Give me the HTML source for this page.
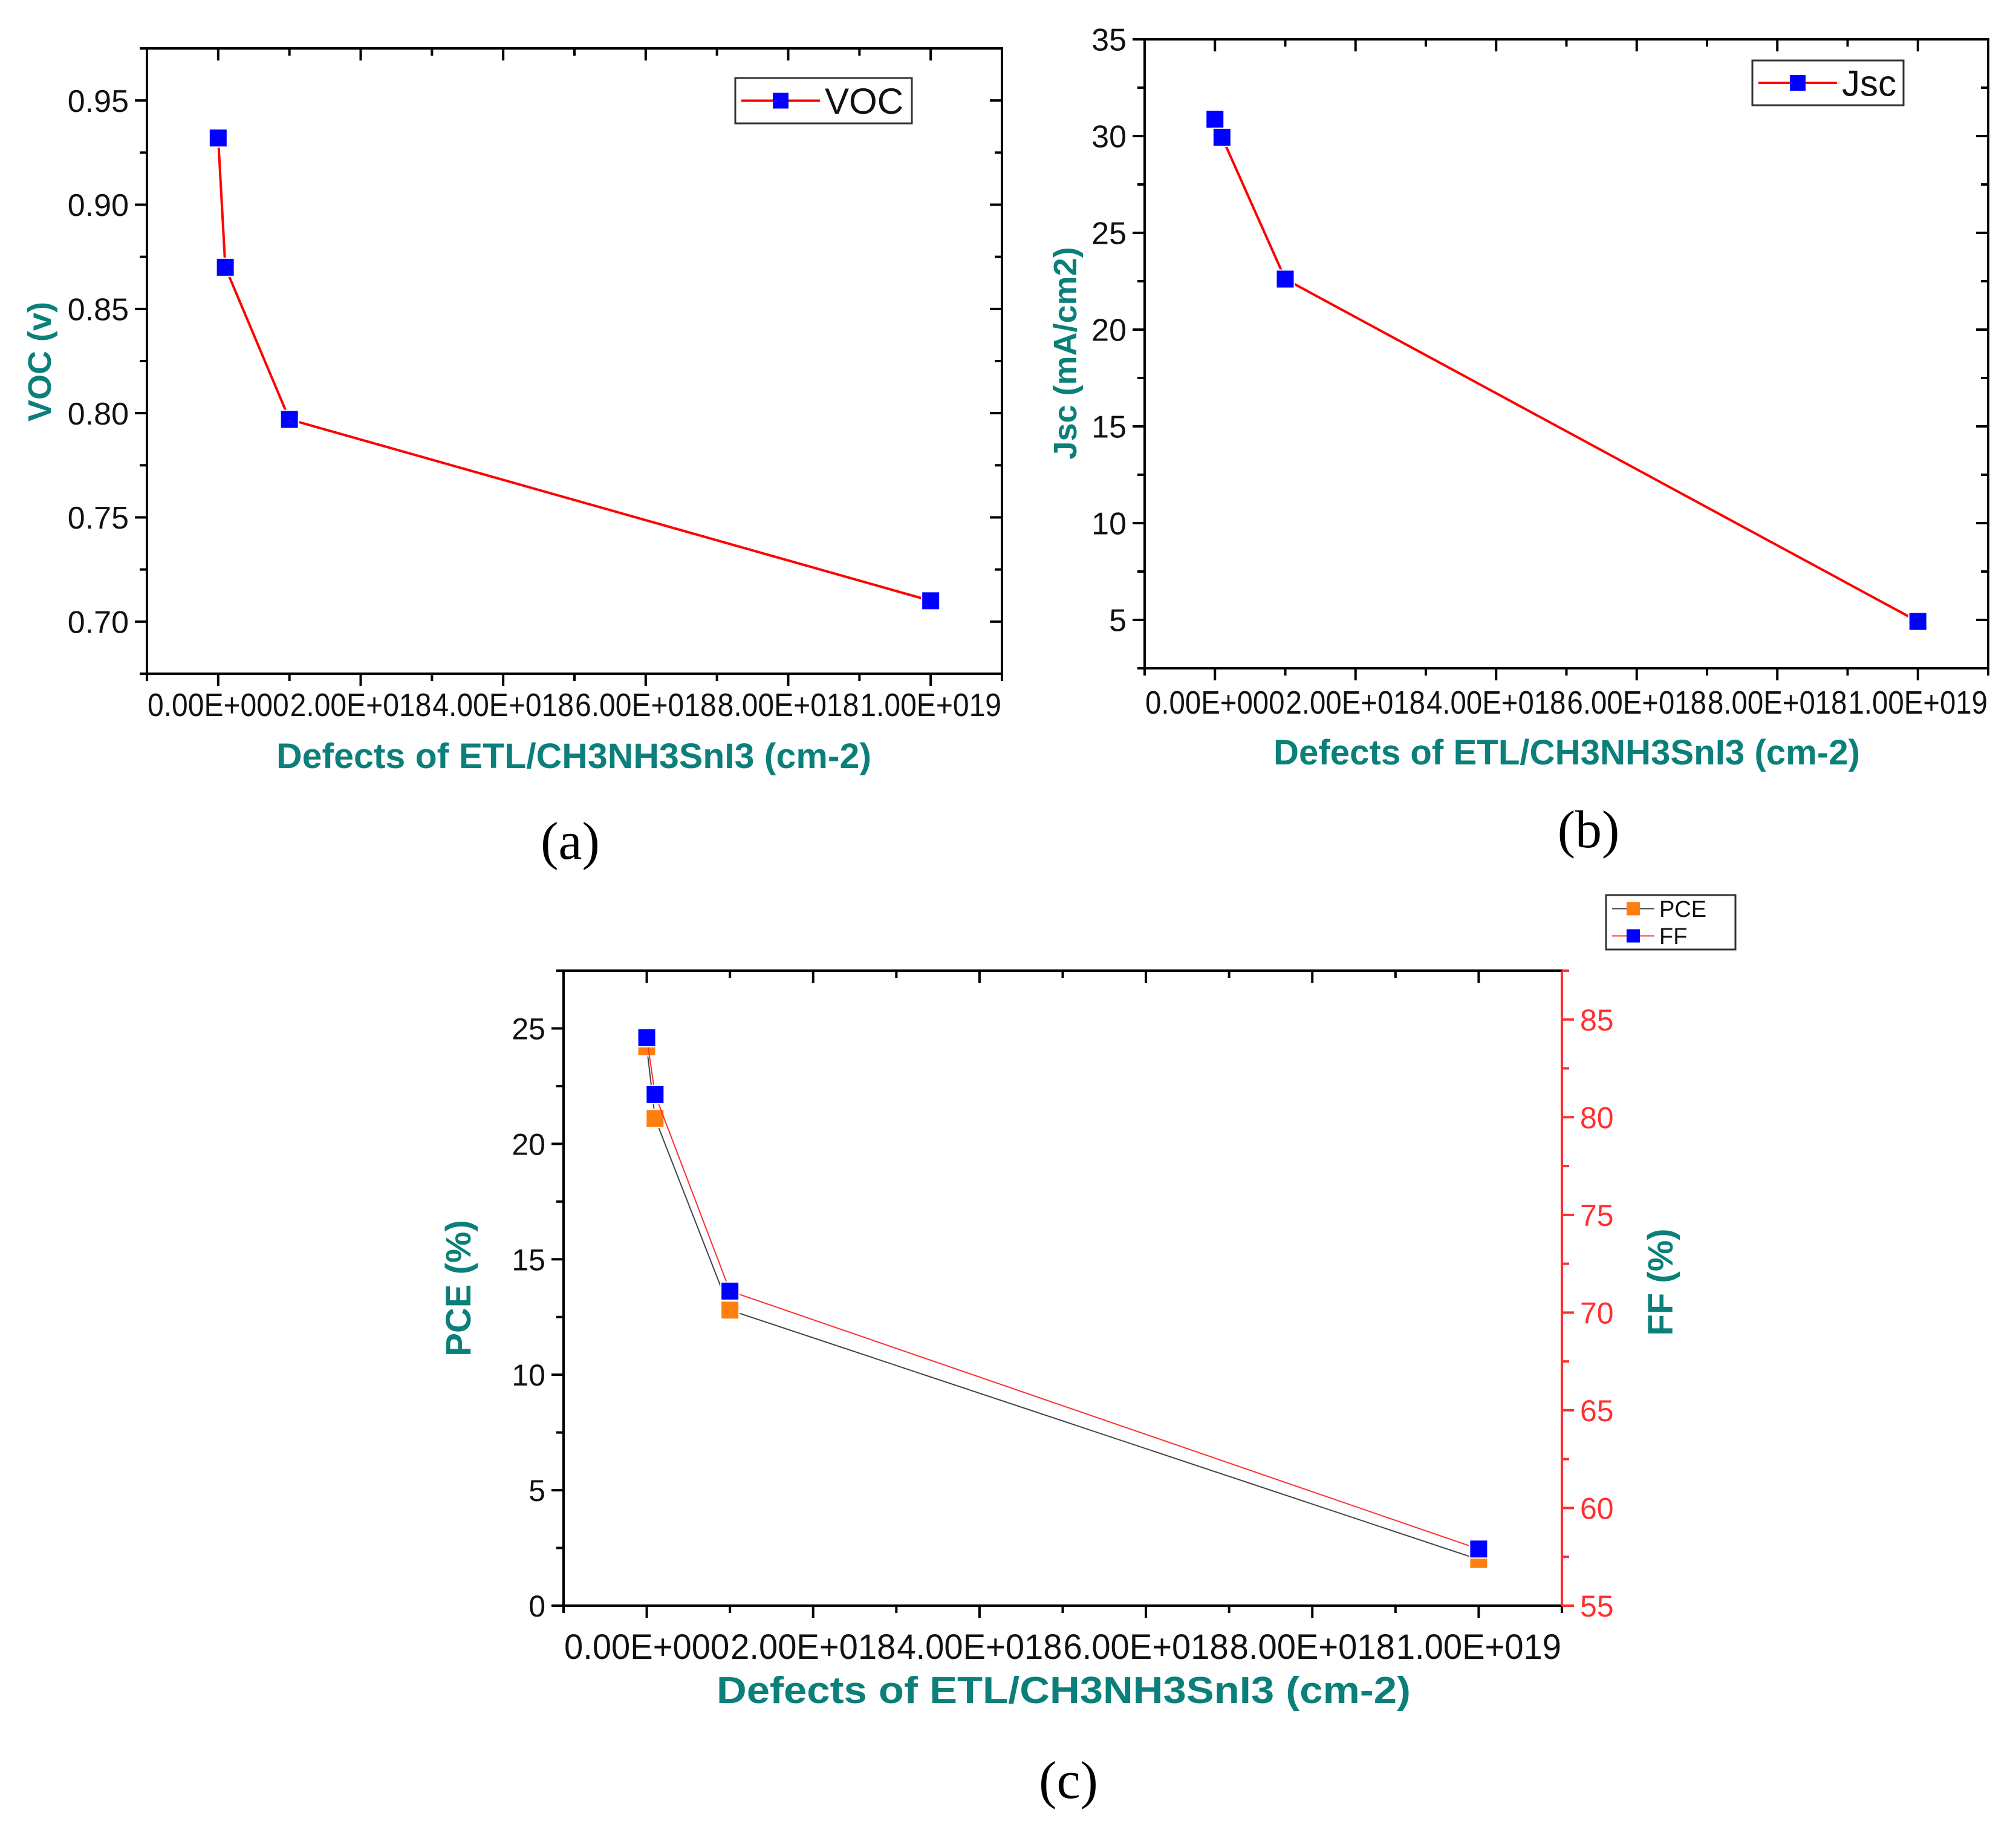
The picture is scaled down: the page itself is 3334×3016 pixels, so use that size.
<!DOCTYPE html>
<html><head><meta charset="utf-8"><style>
html,body{margin:0;padding:0;background:#fff;}
svg{display:block;}
</style></head><body>
<svg id="fig" width="3334" height="3016" viewBox="0 0 3334 3016" xmlns="http://www.w3.org/2000/svg" font-family="Liberation Sans, sans-serif">
<text x="943" y="1420" font-family="Liberation Serif, serif" font-size="88" text-anchor="middle">(a)</text>
<text x="2627" y="1401" font-family="Liberation Serif, serif" font-size="88" text-anchor="middle">(b)</text>
<text x="1767" y="2973" font-family="Liberation Serif, serif" font-size="88" text-anchor="middle">(c)</text>
</svg>
<script>
const defects = [0, 1e17, 1e18, 1e19];
const vocValues = [0.932, 0.870, 0.797, 0.710];
const jscValues = [30.87, 29.94, 22.61, 4.92];
const pceValues = [24.2, 21.1, 12.8, 2.0];
const ffValues = [84.07, 81.16, 71.1, 57.9];
const xTickValues = [0, 2e18, 4e18, 6e18, 8e18, 1e19];
const xTickLabels = ["0.00E+000","2.00E+018","4.00E+018","6.00E+018","8.00E+018","1.00E+019"];
const vocTicks = [0.70, 0.75, 0.80, 0.85, 0.90, 0.95];
const vocTickLabels = ["0.70","0.75","0.80","0.85","0.90","0.95"];
const jscTicks = [5, 10, 15, 20, 25, 30, 35];
const pceTicks = [0, 5, 10, 15, 20, 25];
const ffTicks = [55, 60, 65, 70, 75, 80, 85];

const NS = "http://www.w3.org/2000/svg";
const svg = document.getElementById('fig');
function mk(tag, attrs, parent){
  const e = document.createElementNS(NS, tag);
  for (const k in attrs) e.setAttribute(k, attrs[k]);
  (parent||svg).appendChild(e);
  return e;
}
const TEAL = "#0b7f7a";

function panel(cfg){
  const g = mk('g', {});
  
  
  const {L,R,T,B,xmin,xmax} = cfg;
  const X = v => L + (v - xmin) / (xmax - xmin) * (R - L);
  const Y = v => B - (v - cfg.ymin) / (cfg.ymax - cfg.ymin) * (B - T);
  const frame = mk('rect', {x:L, y:T, width:R-L, height:B-T, fill:'none', stroke:'#000', 'stroke-width':4}, g);
  
  
  for (let v = xmin; v <= xmax + 1; v += 1e18) {
    const x = X(v);
    const major = Math.abs(Math.round(v/2e18)*2e18 - v) < 1e16;
    const len = major ? 20 : 12;
    mk('line', {x1:x, x2:x, y1:B, y2:B+len, stroke:'#000','stroke-width':4}, g);
    mk('line', {x1:x, x2:x, y1:T, y2:T+len, stroke:'#000','stroke-width':4}, g);
  }
  const lblW = (X(2e18) - X(0)) - 2;
  xTickValues.forEach((v,i) => {
    const t = mk('text', {x:X(v), y:cfg.xlabY, 'font-size':cfg.xfs, 'text-anchor':'middle', fill:'#111', textLength:lblW, lengthAdjust:'spacingAndGlyphs'}, g);
    t.textContent = xTickLabels[i];
    
    
  });
  const xt = mk('text', {x:cfg.xtX, y:cfg.xtY, 'font-size':cfg.titleFs, 'font-weight':'bold', 'text-anchor':'middle', fill:TEAL, textLength:cfg.xtW, lengthAdjust:'spacingAndGlyphs'}, g);
  xt.textContent = "Defects of ETL/CH3NH3SnI3 (cm-2)";
  
  
  const step = cfg.ystep;
  for (let v = cfg.yTicks[0] - step; v <= cfg.ymax + 1e-9; v += step/2) {
    if (v < cfg.ymin - 1e-9) continue;
    const y = Y(v);
    const major = cfg.yTicks.some(t => Math.abs(t - v) < 1e-6);
    const len = major ? 20 : 12;
    mk('line', {x1:L-len, x2:L, y1:y, y2:y, stroke:'#000','stroke-width':4}, g);
    if (!cfg.right) mk('line', {x1:R-len, x2:R, y1:y, y2:y, stroke:'#000','stroke-width':4}, g);
  }
  cfg.yTicks.forEach((v,i) => {
    const t = mk('text', {x:L-30, y:Y(v)+cfg.tfs*0.36, 'font-size':cfg.tfs, 'text-anchor':'end', fill:'#111'}, g);
    t.textContent = cfg.yLabels ? cfg.yLabels[i] : String(v);
    
    
  });
  const yt = mk('text', {x:0, y:0, 'font-size':cfg.ytFs, 'font-weight':'bold', 'text-anchor':'middle', fill:TEAL, transform:`translate(${cfg.ytX},${cfg.ytY}) rotate(-90)`}, g);
  yt.textContent = cfg.yTitle;
  
  
  return {g, X, Y};
}

function series(g, X, Y, vals, color, lw, marker, name){
  const pts = defects.map((d,i) => X(d)+','+Y(vals[i])).join(' ');
  const pl = mk('polyline', {points:pts, fill:'none', stroke:color, 'stroke-width':lw}, g);
  
  
  defects.forEach((d,i) => {
    const r = mk('rect', {x:X(d)-15, y:Y(vals[i])-15, width:30, height:30, fill:marker, stroke:'#fff','stroke-width':2}, g);
    
    
  });
}

function legend(x, y, w, h, entries, fs){
  const g = mk('g', {});
  
  
  mk('rect', {x:x, y:y, width:w, height:h, fill:'#fff', stroke:'#333','stroke-width':3}, g);
  const rowH = h / entries.length;
  entries.forEach((e,i) => {
    const cy = y + rowH*(i+0.5);
    const ll = e.len;
    mk('line', {x1:x+10, x2:x+10+ll, y1:cy, y2:cy, stroke:e.line, 'stroke-width':e.lw}, g);
    mk('rect', {x:x+10+ll/2-e.ms/2, y:cy-e.ms/2, width:e.ms, height:e.ms, fill:e.marker}, g);
    const t = mk('text', {x:x+18+ll, y:cy+fs*0.36, 'font-size':fs, fill:'#111'}, g);
    t.textContent = e.label;
    
    
  });
}

// Panel a
const pa = panel({name:'voc-chart', L:243, R:1657, T:80, B:1114, xmin:-1e18, xmax:1.1e19, ymin:0.675, ymax:0.975,
  ystep:0.05, yTicks:vocTicks, yLabels:vocTickLabels, tfs:52, xfs:54, xlabY:1184, titleFs:58, xtW:984, xtX:949, xtY:1270,
  ytFs:54, ytX:84, ytY:598, yTitle:'VOC (v)'});
series(pa.g, pa.X, pa.Y, vocValues, '#ff0000', 4, '#0000ff', 'voc');
legend(1216, 129, 292, 75, [{label:'VOC', line:'#ff0000', marker:'#0000ff', lw:4, len:130, ms:26}], 60);

// Panel b
const pb = panel({name:'jsc-chart', L:1893, R:3288, T:65, B:1105, xmin:-1e18, xmax:1.1e19, ymin:2.5, ymax:35,
  ystep:5, yTicks:jscTicks, tfs:52, xfs:54, xlabY:1180, titleFs:58, xtW:970, xtX:2591, xtY:1264,
  ytFs:54, ytX:1780, ytY:584, yTitle:'Jsc (mA/cm2)'});
series(pb.g, pb.X, pb.Y, jscValues, '#ff0000', 4, '#0000ff', 'jsc');
legend(2898, 100, 250, 74, [{label:'Jsc', line:'#ff0000', marker:'#0000ff', lw:4, len:130, ms:26}], 60);

// Panel c
const pc = panel({name:'pce-ff-chart', L:932, R:2583, T:1605, B:2655, xmin:-1e18, xmax:1.1e19, ymin:0, ymax:27.5,
  ystep:5, yTicks:pceTicks, tfs:50, xfs:58, xlabY:2743, titleFs:62, xtW:1148, xtX:1759, xtY:2816,
  ytFs:58, ytX:778, ytY:2130, yTitle:'PCE (%)', right:true});
const ffMin = 55, ffMax = 87.5;
const Yr = v => 2655 - (v - ffMin) / (ffMax - ffMin) * (2655 - 1605);
mk('line', {x1:2583, x2:2583, y1:1605, y2:2655, stroke:'#ff3030','stroke-width':4}, pc.g);
for (let v = 55; v <= 87.5; v += 2.5) {
  const major = ffTicks.includes(v);
  mk('line', {x1:2583, x2:2583+(major?20:12), y1:Yr(v), y2:Yr(v), stroke:'#ff3030','stroke-width':4}, pc.g);
}
ffTicks.forEach(v => {
  const t = mk('text', {x:2613, y:Yr(v)+18, 'font-size':50, fill:'#ff3030'}, pc.g);
  t.textContent = String(v);
  
  
});
const fft = mk('text', {x:0, y:0, 'font-size':58, 'font-weight':'bold', 'text-anchor':'middle', fill:TEAL, transform:'translate(2766,2120) rotate(-90)'}, pc.g);
fft.textContent = 'FF (%)';


series(pc.g, pc.X, pc.Y, pceValues, '#444', 2, '#ff7f0e', 'pce');
series(pc.g, pc.X, Yr, ffValues, '#ff3030', 2, '#0000ff', 'ff');
legend(2656, 1480, 214, 90, [
  {label:'PCE', line:'#444', marker:'#ff7f0e', lw:2, len:70, ms:22},
  {label:'FF', line:'#ff3030', marker:'#0000ff', lw:2, len:70, ms:22}], 38);
</script>
</body></html>
